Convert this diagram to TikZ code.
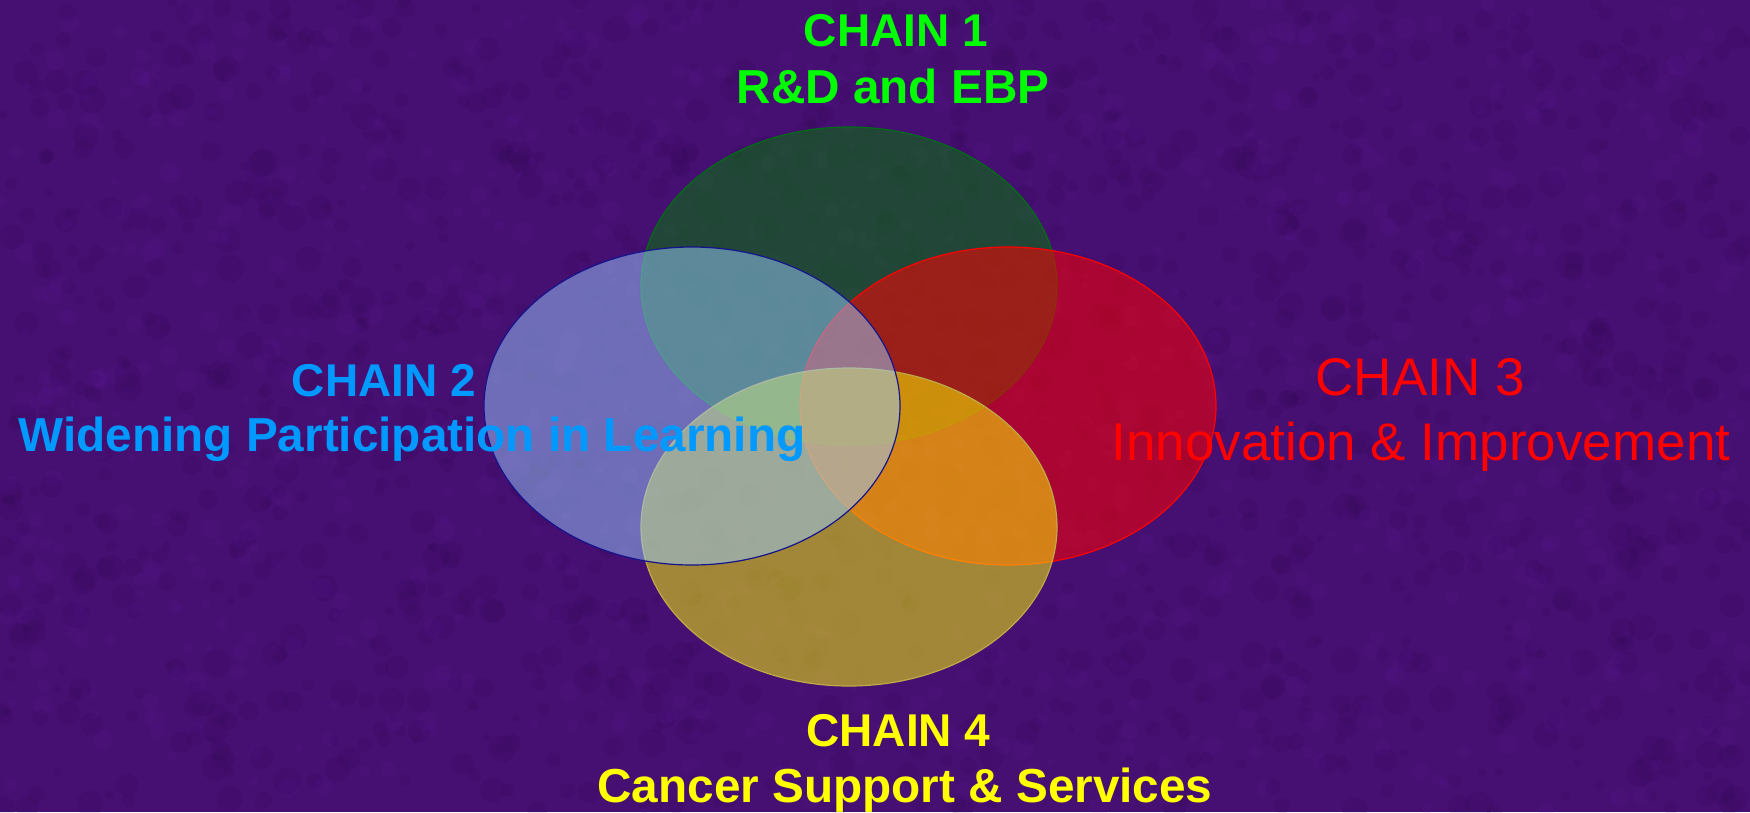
\documentclass[tikz,border=0pt]{standalone}
\usepackage{fontspec}
\setmainfont{Liberation Sans}
\begin{document}
\begin{tikzpicture}[x=1pt,y=-1pt,
  venn/.style={line width=1.2pt, fill opacity=0.5},
  boldlbl/.style={anchor=base, inner sep=0pt, font=\fontsize{46}{56}\selectfont\bfseries},
  boldlblw/.style={anchor=base, inner sep=0pt, font=\fontsize{47.7}{56}\selectfont\bfseries},
  reglbl/.style={anchor=base, inner sep=0pt, font=\fontsize{53}{64}\selectfont}]
\definecolor{bgpurple}{RGB}{70,15,114}
\definecolor{bgdark}{RGB}{35,3,60}
\definecolor{bglight}{RGB}{110,35,175}
\definecolor{vgreen}{RGB}{0,128,0}
\definecolor{vgreenline}{RGB}{0,110,20}
\definecolor{vblue}{RGB}{153,204,255}
\definecolor{vblueline}{RGB}{20,20,140}
\definecolor{vred}{RGB}{255,0,0}
\definecolor{vyellow}{RGB}{255,255,0}
\definecolor{vyellowline}{RGB}{190,170,70}
\definecolor{tgreen}{RGB}{0,255,0}
\definecolor{tblue}{RGB}{0,153,255}
\definecolor{tred}{RGB}{255,0,0}
\definecolor{tyellow}{RGB}{255,255,0}
\fill[bgpurple] (0,0) rectangle (1750,812);
\useasboundingbox (0,0) rectangle (1750,812);
% subtle mottled background texture
\pgfmathsetseed{11}
\begin{scope}
\clip (0,0) rectangle (1750,812);
\foreach \i in {1,...,1400}{
  \pgfmathsetmacro{\px}{1750*rnd}
  \pgfmathsetmacro{\py}{812*rnd}
  \pgfmathsetmacro{\pr}{4+10*rnd}
  \fill[bgdark, opacity=0.09] (\px,\py) circle[radius=\pr pt];
}
\foreach \i in {1,...,900}{
  \pgfmathsetmacro{\px}{1750*rnd}
  \pgfmathsetmacro{\py}{812*rnd}
  \pgfmathsetmacro{\pr}{3+8*rnd}
  \fill[bglight, opacity=0.08] (\px,\py) circle[radius=\pr pt];
}
\end{scope}
% ellipses
\path[venn, fill=vgreen, draw=vgreenline] (849,286) ellipse [x radius=208pt, y radius=159pt];
\path[venn, fill=vred, fill opacity=0.55, draw=vred] (1008,406) ellipse [x radius=208pt, y radius=159pt];
\path[venn, fill=vyellow, draw=vyellowline] (849,527) ellipse [x radius=208pt, y radius=159pt];
\path[venn, fill=vblue, draw=vblueline] (692,406) ellipse [x radius=208pt, y radius=159pt];
% labels
\node[boldlbl, text=tgreen] (c1a) at (896,46.7) {CHAIN 1};
\node[boldlblw, text=tgreen] (c1b) at (893,103.3) {R\&D and EBP};
\node[boldlbl, text=tblue] (c2a) at (384,396.7) {CHAIN 2};
\node[boldlblw, text=tblue] (c2b) at (412,451.7) {Widening Participation in Learning};
\node[reglbl, text=tred] (c3a) at (1420,395) {CHAIN 3};
\node[reglbl, text=tred] (c3b) at (1421,460) {Innovation \& Improvement};
\node[boldlbl, text=tyellow] (c4a) at (898.5,746.7) {CHAIN 4};
\node[boldlblw, text=tyellow] (c4b) at (905,802.7) {Cancer Support \& Services};
\end{tikzpicture}
\end{document}
